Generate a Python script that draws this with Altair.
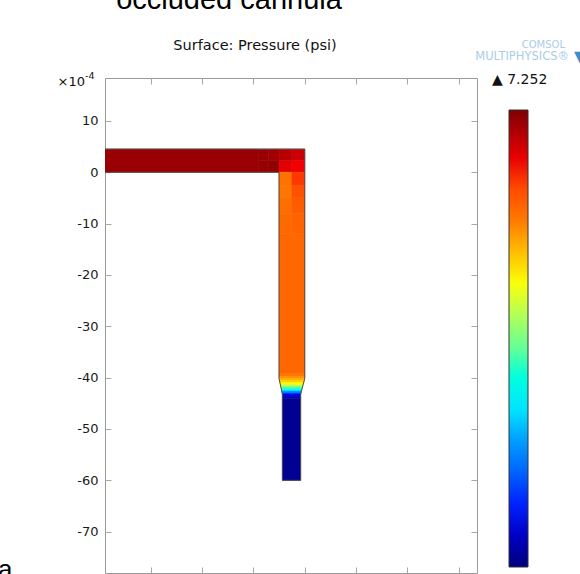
import altair as alt
import pandas as pd
import numpy as np

# ---- pressure field patches (coordinates in units of 1e-4, pressure in psi) ----
seg_x1 = [-39, -9, -7, -5, -2.5, -9, -7, -5, -2.5,
          -5, -2.5, -5, -2.5, -5, -2.5, -5, -2.5, -5, -5, -5,
          -4.96, -4.87, -4.78, -4.70, -4.61, -4.52, -4.44, -4.37, -4.35, -4.35, -4.35]
seg_x2 = [-9, -7, -5, -2.5, 0, -7, -5, -2.5, 0,
          -2.5, 0, -2.5, 0, -2.5, 0, -2.5, 0, 0, 0, 0,
          -0.05, -0.16, -0.27, -0.37, -0.48, -0.59, -0.69, -0.77, -0.80, -0.80, -0.80]
seg_ybot = [0, 2.25, 2.25, 2.25, 2.25, 0, 0, 0, 0,
            -2.5, -2.5, -5, -5, -8, -8, -12, -12, -39.2, -39.8, -40.2,
            -40.6, -41.0, -41.4, -41.8, -42.2, -42.6, -43.0, -43.2, -43.6, -44.0, -60.0]
seg_ytop = [4.5, 4.5, 4.5, 4.5, 4.5, 2.25, 2.25, 2.25, 2.25,
            0, 0, -2.5, -2.5, -5, -5, -8, -8, -12, -39.2, -39.8,
            -40.2, -40.6, -41.0, -41.4, -41.8, -42.2, -42.6, -43.0, -43.2, -43.6, -44.0]
seg_p = [7.05, 7.06, 7.00, 6.85, 6.70, 7.08, 7.12, 6.55, 6.45,
         5.60, 6.15, 5.55, 5.95, 5.64, 5.85, 5.70, 5.76, 5.72, 5.55, 5.30,
         5.10, 4.85, 4.55, 4.10, 3.40, 2.70, 1.90, 1.30, 0.80, 0.40, 0.15]

# ---- channel wall outline ----
out_x = [-39, 0, 0, -0.8, -0.8, -4.35, -4.35, -5, -5, -39]
out_y = [4.5, 4.5, -40.2, -43.2, -60, -60, -43.2, -40.2, 0, 0]

# ---- axes / colour bar ----
y_ticks = [-70, -60, -50, -40, -30, -20, -10, 0, 10]
x_ticks = [-30, -20, -10, 0, 10, 20, 30]
p_min, p_max = 0.0, 7.252
jet_colors = ['#00007f', '#0000ff', '#007fff', '#00ffff', '#7fff7f',
              '#ffff00', '#ff7f00', '#ff0000', '#7f0000']

df = pd.DataFrame({'x1': seg_x1, 'x2': seg_x2, 'y1': seg_ybot, 'y2': seg_ytop,
                   'p': seg_p, 'pe': seg_p})
odf = pd.DataFrame({'ox': out_x, 'oy': out_y, 'oi': list(range(len(out_x)))})

stops = [float(v) for v in np.linspace(p_min, p_max, len(jet_colors))]
xs = alt.Scale(domain=[-38.9, 33.55], nice=False, zero=False)
ys = alt.Scale(domain=[-78.05, 18.35], nice=False, zero=False)
cs = alt.Scale(type='linear', domain=stops, range=jet_colors)
cs_edge = alt.Scale(type='linear', domain=stops, range=jet_colors)

tick_common = dict(tickSize=6, offset=-6, domain=False, grid=False,
                   tickColor='#a8a8a8', tickWidth=1, title=None)
ax_left = alt.Axis(values=y_ticks, orient='left', labelExpr="datum.value + ''",
                   labelPadding=7, labelFont='DejaVu Sans', labelFontSize=13,
                   labelColor='#1a1a1a', **tick_common)
ax_bottom = alt.Axis(values=x_ticks, orient='bottom', labels=False, **tick_common)
ax_top = alt.Axis(values=x_ticks, orient='top', labels=False, **tick_common)
ax_right = alt.Axis(values=y_ticks, orient='right', labels=False, **tick_common)

field = alt.Chart(df).mark_rect(clip=True, strokeWidth=0.6).encode(
    x=alt.X('x1:Q', scale=xs, axis=ax_bottom),
    x2='x2:Q',
    y=alt.Y('y1:Q', scale=ys, axis=ax_left),
    y2='y2:Q',
    color=alt.Color('p:Q', scale=cs, legend=alt.Legend(
        type='gradient', orient='none', legendX=404, legendY=32, direction='vertical',
        gradientLength=457, gradientThickness=19, title=None, labelExpr="''",
        labelFontSize=1, gradientStrokeColor='#333333', gradientStrokeWidth=1, padding=0)),
    stroke=alt.Stroke('pe:Q', scale=cs_edge, legend=None),
)

outline = alt.Chart(odf).mark_line(clip=True, color='#4d4d4d', strokeWidth=1).encode(
    x=alt.X('ox:Q', scale=xs, axis=ax_top),
    y=alt.Y('oy:Q', scale=ys, axis=ax_right),
    order='oi:Q',
)


def ann(t, x, y, size, font='DejaVu Sans', color='#111111', align='left'):
    return alt.Chart(pd.DataFrame({'t': [t]})).mark_text(
        align=align, baseline='alphabetic', fontSize=size, font=font, color=color
    ).encode(x=alt.value(x), y=alt.value(y), text='t:N')


texts = [
    ann('occluded cannula', 124, -69, 29, font='Liberation Sans', color='#000000', align='center'),
    ann('Surface: Pressure (psi)', 150, -28, 14.5, align='center'),
    ann('×10', -20, 8, 13, align='right'),
    ann('-4', -20, 1, 9.5),
    ann('▲ ' + f'{p_max:.3f}', 387, 6, 14),
    ann('COMSOL', 460, -30, 10, color='#a9cde6', align='right'),
    ann('MULTIPHYSICS®', 464, -18, 11.5, color='#a9cde6', align='right'),
    ann('▼', 469, -16, 16, color='#3a8ccc', align='left'),
    ann('a', -107, 500, 26, font='Liberation Sans', color='#000000'),
]

chart = alt.layer(field, outline, *texts).resolve_axis(
    x='independent', y='independent'
).resolve_scale(stroke='independent').properties(
    width=372, height=495,
    autosize=alt.AutoSizeParams(type='none'),
    padding={'left': 105, 'top': 78, 'right': 103, 'bottom': 1},
    background='white',
).configure_view(stroke='#9a9a9a', strokeWidth=1)

chart.save('out.html', embed_options={'renderer': 'svg', 'actions': False})
